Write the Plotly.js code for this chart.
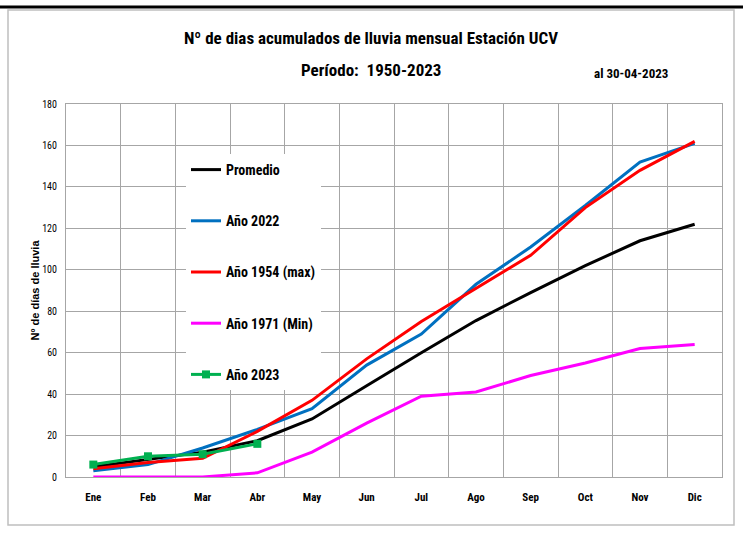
<!DOCTYPE html>
<html>
<head>
<meta charset="utf-8">
<script src="https://cdn.plot.ly/plotly-3.0.1.min.js"></script>
<style>html,body{margin:0;padding:0;background:#fff;}#chart{width:743px;height:559px;}</style>
</head>
<body>
<div id="chart"></div>
<script>
const months = ['Ene','Feb','Mar','Abr','May','Jun','Jul','Ago','Sep','Oct','Nov','Dic'];
const promedio = [5, 8.5, 12, 17.5, 28, 44, 60, 75.5, 89, 102, 114, 122];
const ano2022 = [3, 6, 14, 23, 33, 54, 69, 93, 111, 131, 152, 161];
const ano1954 = [4, 7, 9, 22, 37, 57, 75, 91, 107, 130, 148, 162];
const ano1971 = [0, 0, 0, 2, 12, 26, 39, 41, 49, 55, 62, 64];
const months2023 = ['Ene','Feb','Mar','Abr'];
const ano2023 = [6, 10, 11, 16];
const seriesNames = ['Promedio','Año 2022','Año 1954 (max)','Año 1971 (Min)','Año 2023'];

const narrow = '"Liberation Sans Narrow", "Arial Narrow", "Roboto Condensed", "DejaVu Sans Condensed", sans-serif';

const traces = [
  {x: months, y: promedio, name: seriesNames[0], mode: 'lines', line: {color: '#000000', width: 3}, legendgroup: 'a'},
  {x: months, y: ano2022, name: seriesNames[1], mode: 'lines', line: {color: '#0070C0', width: 3}, legendgroup: 'b'},
  {x: months, y: ano1954, name: seriesNames[2], mode: 'lines', line: {color: '#FF0000', width: 3}, legendgroup: 'c'},
  {x: months, y: ano1971, name: seriesNames[3], mode: 'lines', line: {color: '#FF00FF', width: 3}, legendgroup: 'd'},
  {x: months2023, y: ano2023, name: seriesNames[4], mode: 'lines+markers', line: {color: '#00B050', width: 3}, marker: {symbol: 'square', size: 8, color: '#00B050'}, legendgroup: 'e'}
];

const gridC = '#a6a6a6';
const layout = {
  width: 743, height: 559,
  paper_bgcolor: '#ffffff', plot_bgcolor: '#ffffff',
  margin: {l: 66, r: 21, t: 104, b: 82},
  showlegend: true,
  title: {text: '<b>Nº de dias acumulados de lluvia mensual Estación UCV</b>', font: {family: narrow, size: 17, color: '#000'}, x: 0.4993, xanchor: 'center', y: 1 - 38/559, yanchor: 'middle'},
  xaxis: {
    type: 'category', range: [-0.5, 11.5], tickson: 'boundaries', showgrid: true, gridcolor: gridC, gridwidth: 1,
    showline: true, linecolor: gridC, mirror: true, ticks: '', ticklabelstandoff: 10,
    tickfont: {family: narrow, size: 11, color: '#000', weight: 'bold'}, fixedrange: true
  },
  yaxis: {
    range: [0, 180], dtick: 20, showgrid: true, gridcolor: gridC, gridwidth: 1, zeroline: false,
    showline: true, linecolor: gridC, mirror: true, ticks: '', ticklabelstandoff: 6,
    tickfont: {family: narrow, size: 10, color: '#000'},
    title: {text: '<b>Nº de días de lluvia</b>', font: {family: 'Liberation Sans, Arial, sans-serif', size: 11, color: '#000', weight: 'bold'}, standoff: 0},
    fixedrange: true
  },
  legend: {
    x: (186 - 66) / 656, y: (477 - 154) / 373, xanchor: 'left', yanchor: 'top',
    bgcolor: '#ffffff', borderwidth: 0, traceorder: 'grouped', tracegroupgap: 30,
    font: {family: narrow, size: 14, color: '#000', weight: 'bold'}, itemwidth: 30
  },
  annotations: [
    {xref: 'paper', yref: 'paper', x: (371 - 66) / 656, y: (477 - 70) / 373, xanchor: 'center', yanchor: 'middle', showarrow: false,
     text: '<b>Período:  1950-2023</b>', font: {family: narrow, size: 17, color: '#000'}},
    {xref: 'paper', yref: 'paper', x: (631 - 66) / 656, y: (477 - 74) / 373, xanchor: 'center', yanchor: 'middle', showarrow: false,
     text: '<b>al 30-04-2023</b>', font: {family: narrow, size: 13, color: '#000'}}
  ],
  shapes: [
    {type: 'rect', xref: 'paper', yref: 'paper', x0: (8 - 66) / 656, x1: (734 - 66) / 656, y0: (477 - 525) / 373, y1: (477 - 10) / 373,
     line: {color: '#bfbfbf', width: 1.5}, layer: 'below'},
    {type: 'line', xref: 'paper', yref: 'paper', x0: (0 - 66) / 656, x1: (743 - 66) / 656, y0: (477 - 7) / 373, y1: (477 - 7) / 373,
     line: {color: '#000000', width: 3}}
  ]
};

Plotly.newPlot('chart', traces, layout, {displayModeBar: false, staticPlot: true});
</script>
</body>
</html>
